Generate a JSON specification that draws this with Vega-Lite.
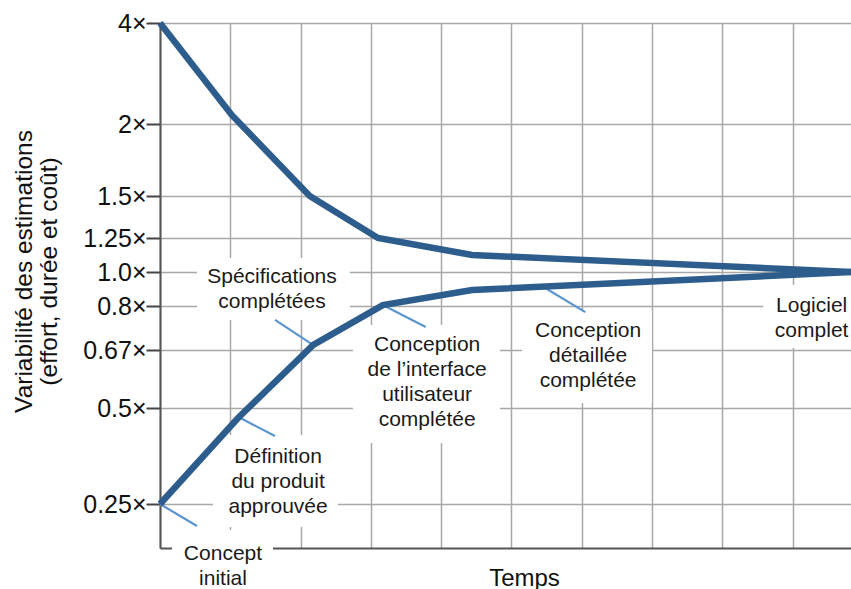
{
  "$schema": "https://vega.github.io/schema/vega-lite/v6.json",
  "width": 691,
  "height": 525,
  "autosize": {"type": "none"},
  "padding": {"left": 160, "top": 23, "right": 0, "bottom": 41},
  "background": "white",
  "config": {
    "view": {"stroke": null},
    "font": "Liberation Sans",
    "axis": {"labelFont": "Liberation Sans", "titleFont": "Liberation Sans", "titleFontWeight": "normal"}
  },
  "datasets": {
    "cone": [
      {"etape": 0, "v": 4, "borne": "haut"},
      {"etape": 1.02, "v": 2.18, "borne": "haut"},
      {"etape": 2.13, "v": 1.5, "borne": "haut"},
      {"etape": 3.1, "v": 1.25, "borne": "haut"},
      {"etape": 4.44, "v": 1.125, "borne": "haut"},
      {"etape": 9.83, "v": 1.0, "borne": "haut"},
      {"etape": 0, "v": 0.25, "borne": "bas"},
      {"etape": 1.11, "v": 0.474, "borne": "bas"},
      {"etape": 2.18, "v": 0.685, "borne": "bas"},
      {"etape": 3.17, "v": 0.805, "borne": "bas"},
      {"etape": 4.44, "v": 0.894, "borne": "bas"},
      {"etape": 9.83, "v": 1.0, "borne": "bas"}
    ],
    "boites": [
      {"e1": 0.526, "e2": 2.70, "v1": 1.103, "v2": 0.759},
      {"e1": 0.754, "e2": 2.53, "v1": 0.430, "v2": 0.172},
      {"e1": 2.745, "e2": 4.836, "v1": 0.744, "v2": 0.409},
      {"e1": 5.149, "e2": 6.999, "v1": 0.785, "v2": 0.515},
      {"e1": 8.58, "e2": 9.83, "v1": 0.924, "v2": 0.676},
      {"e1": 0.171, "e2": 1.607, "v1": 0.161, "v2": -0.04}
    ],
    "reperes": [
      {"e1": 0, "v1": 0.25, "e2": 0.526, "v2": 0.175},
      {"e1": 1.11, "v1": 0.477, "e2": 1.636, "v2": 0.427},
      {"e1": 1.636, "v1": 0.759, "e2": 2.176, "v2": 0.685},
      {"e1": 3.17, "v1": 0.806, "e2": 3.78, "v2": 0.738},
      {"e1": 5.48, "v1": 0.906, "e2": 6.05, "v2": 0.782}
    ],
    "etiquettes": [
      {"texte": "Concept\ninitial", "etape": 0.896, "v": 0.0795},
      {"texte": "Définition\ndu produit\napprouvée", "etape": 1.68, "v": 0.372},
      {"texte": "Spécifications\ncomplétées", "etape": 1.593, "v": 0.971},
      {"texte": "Conception\nde l’interface\nutilisateur\ncomplétée", "etape": 3.8, "v": 0.685},
      {"texte": "Conception\ndétaillée\ncomplétée", "etape": 6.09, "v": 0.726},
      {"texte": "Logiciel\ncomplet", "etape": 9.27, "v": 0.8}
    ]
  },
  "layer": [
    {
      "data": {"name": "boites"},
      "mark": {"type": "rect", "fill": "white", "stroke": null},
      "encoding": {
        "x": {
          "field": "e1", "type": "quantitative",
          "scale": {"domain": [0, 9.83], "nice": false, "zero": false},
          "axis": {
            "values": [0, 1, 2, 3, 4, 5, 6, 7, 8, 9],
            "labels": false, "ticks": false, "grid": true,
            "gridColor": "#a8a8a8", "gridWidth": 1.5, "gridOpacity": 1,
            "domain": true, "domainColor": "#555555", "domainWidth": 2,
            "title": "Temps", "titleFontSize": 24, "titleColor": "#111111",
            "titleX": 364, "titleY": 30, "titleBaseline": "middle", "titleAlign": "center"
          }
        },
        "x2": {"field": "e2"},
        "y": {
          "field": "v1", "type": "quantitative",
          "scale": {
            "domain": [0.1, 0.25, 0.5, 0.67, 0.8, 1, 1.25, 1.5, 2, 4],
            "range": [525, 481, 385, 327, 283, 249, 215, 173, 101, 0],
            "nice": false, "zero": false
          },
          "axis": {
            "values": [0.25, 0.5, 0.67, 0.8, 1, 1.25, 1.5, 2, 4],
            "labelExpr": "datum.value == 1 ? '1.0×' : datum.value + '×'",
            "labelFontSize": 25, "labelColor": "#111111", "labelPadding": 0,
            "tickSize": 14, "tickColor": "#444444", "tickWidth": 2,
            "grid": true, "gridColor": "#a8a8a8", "gridWidth": 1.5, "gridOpacity": 1,
            "domain": true, "domainColor": "#555555", "domainWidth": 2,
            "title": ["Variabilité des estimations", "(effort, durée et coût)"],
            "titleFontSize": 24.5, "titleColor": "#111111", "titleLineHeight": 25,
            "titleX": -136, "titleY": 248, "titleAngle": -90,
            "titleBaseline": "middle", "titleAlign": "center"
          }
        },
        "y2": {"field": "v2"}
      }
    },
    {
      "data": {"name": "reperes"},
      "mark": {"type": "rule", "color": "#5b95cf", "strokeWidth": 2.2},
      "encoding": {
        "x": {"field": "e1", "type": "quantitative"},
        "x2": {"field": "e2"},
        "y": {"field": "v1", "type": "quantitative"},
        "y2": {"field": "v2"}
      }
    },
    {
      "data": {"name": "cone"},
      "mark": {"type": "line", "color": "#2c5d8c", "strokeWidth": 6.5, "strokeJoin": "miter"},
      "encoding": {
        "x": {"field": "etape", "type": "quantitative"},
        "y": {"field": "v", "type": "quantitative"},
        "detail": {"field": "borne", "type": "nominal"}
      }
    },
    {
      "data": {"name": "etiquettes"},
      "mark": {"type": "text", "fontSize": 21, "color": "#1a1a1a", "lineBreak": "\n", "lineHeight": 25, "align": "center", "baseline": "middle"},
      "encoding": {
        "x": {"field": "etape", "type": "quantitative"},
        "y": {"field": "v", "type": "quantitative"},
        "text": {"field": "texte", "type": "nominal"}
      }
    }
  ]
}
